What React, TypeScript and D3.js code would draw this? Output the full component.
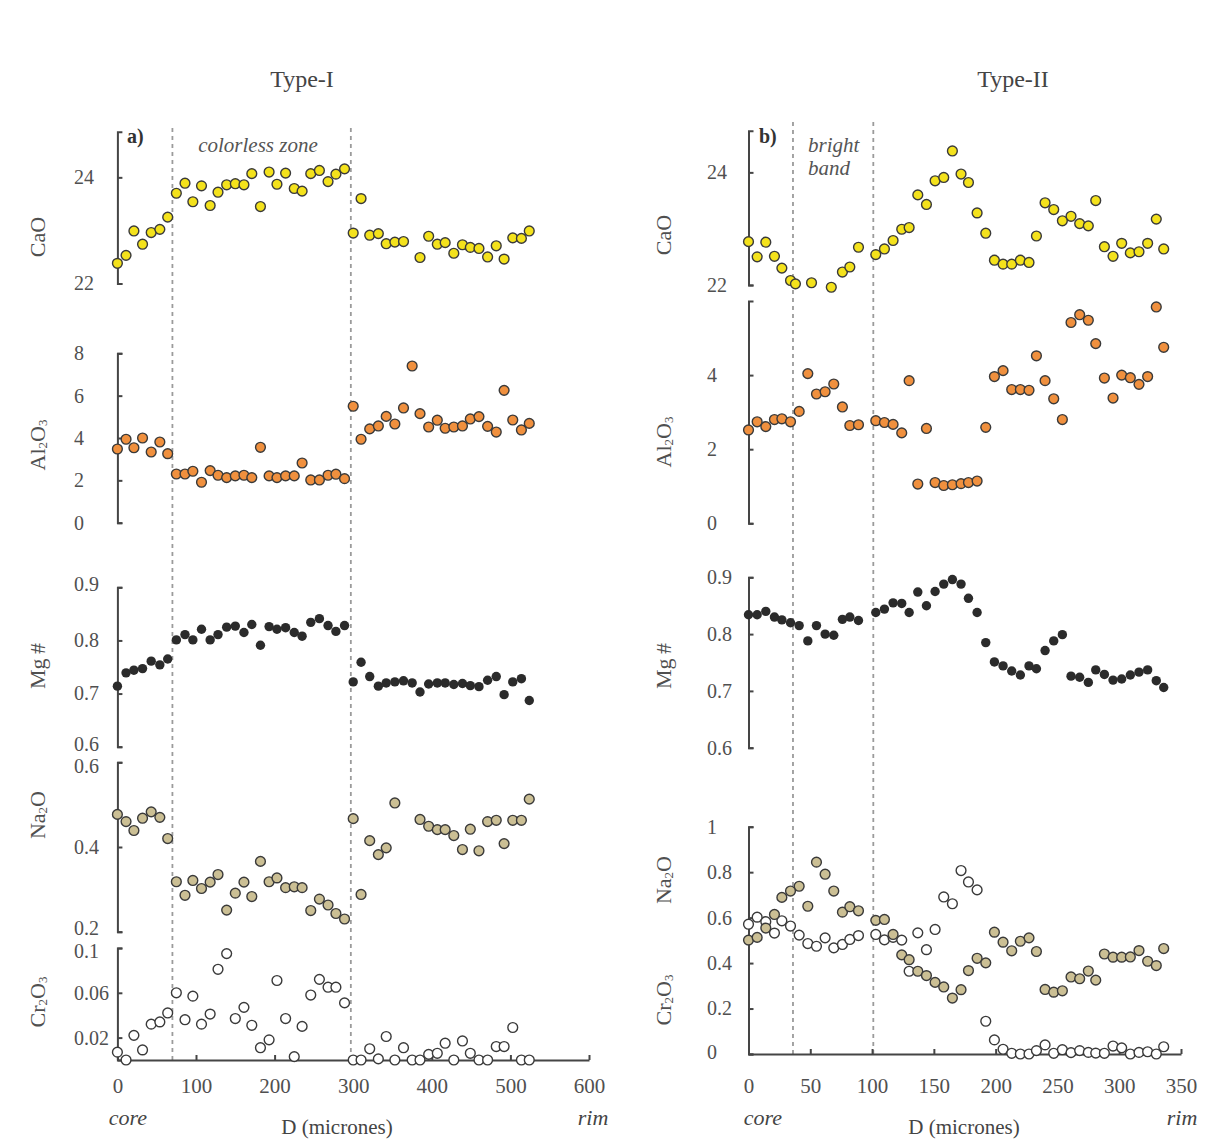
import React, { useRef, useEffect } from 'react';
import * as d3 from 'd3';

// Type-I crystal: distance from core (microns)
const distI = [0, 11, 21, 32, 43, 54, 64, 75, 86, 96, 107, 118, 128, 139, 150, 161, 171, 182, 193, 203,
  214, 225, 235, 246, 257, 268, 278, 289, 300, 310, 321, 332, 342, 353, 364, 375, 385, 396, 407, 417,
  428, 439, 449, 460, 471, 482, 492, 503, 514, 524];
const caoI = [22.38, 22.53, 22.99, 22.74, 22.96, 23.02, 23.25, 23.70, 23.89, 23.54, 23.84, 23.47, 23.72, 23.86, 23.88,
  23.86, 24.07, 23.45, 24.10, 23.87, 24.08, 23.79, 23.74, 24.07, 24.13, 23.92, 24.06, 24.16, 22.95, 23.60,
  22.91, 22.94, 22.75, 22.78, 22.79, null, 22.49, 22.89, 22.74, 22.77, 22.57, 22.73, 22.68, 22.66, 22.50,
  22.71, 22.46, 22.86, 22.85, 22.99];
const al2o3I = [3.48, 3.94, 3.54, 4.00, 3.34, 3.81, 3.26, 2.30, 2.30, 2.43, 1.91, 2.46, 2.24, 2.13, 2.21, 2.24,
  2.13, 3.56, 2.21, 2.13, 2.21, 2.21, 2.82, 2.02, 2.02, 2.24, 2.29, 2.08, 5.50, 3.94, 4.43, 4.57, 5.02, 4.66,
  5.42, 7.40, 5.15, 4.52, 4.84, 4.46, 4.52, 4.57, 4.90, 5.01, 4.55, 4.28, 6.25, 4.85, 4.38, 4.69];
const mgI = [0.714, 0.739, 0.744, 0.747, 0.761, 0.754, 0.765, 0.801, 0.811, 0.801, 0.821, 0.801, 0.811, 0.825,
  0.827, 0.815, 0.830, 0.791, 0.826, 0.821, 0.824, 0.815, 0.808, 0.834, 0.841, 0.828, 0.817, 0.828, 0.722,
  0.759, 0.732, 0.714, 0.720, 0.722, 0.724, 0.720, 0.703, 0.718, 0.720, 0.720, 0.717, 0.719, 0.715, 0.713,
  0.725, 0.732, 0.698, 0.722, 0.728, 0.687];
const na2oI = [0.477, 0.460, 0.439, 0.468, 0.483, 0.470, 0.420, 0.318, 0.286, 0.321, 0.302, 0.317, 0.335, 0.251,
  0.291, 0.317, 0.283, 0.366, 0.318, 0.327, 0.304, 0.306, 0.304, 0.250, 0.277, 0.263, 0.243, 0.230, 0.467,
  0.288, 0.415, 0.382, 0.398, 0.504, null, null, 0.465, 0.449, 0.441, 0.441, 0.427, 0.394, 0.442, 0.391,
  0.460, 0.463, 0.408, 0.463, 0.463, 0.513];
const cr2o3I = [0.007, 0, 0.022, 0.009, 0.032, 0.034, 0.042, 0.060, 0.036, 0.057, 0.032, 0.041, 0.081, 0.095,
  0.037, 0.047, 0.031, 0.011, 0.018, 0.071, 0.037, 0.003, 0.030, 0.058, 0.072, 0.065, 0.065, 0.051, 0, 0,
  0.010, 0.001, 0.021, 0, 0.011, 0, 0, 0.005, 0.006, 0.015, 0, 0.017, 0.006, 0, 0, 0.012, 0.012, 0.029, 0, 0];
const zonesI = [70, 297];

// Type-II crystal
const distII = [0, 7, 14, 21, 27, 34, 41, 48, 55, 62, 69, 76, 82, 89, 96, 103, 110, 117, 124, 130, 137, 144,
  151, 158, 165, 172, 178, 185, 192, 199, 206, 213, 220, 227, 233, 240, 247, 254, 261, 268, 275, 281, 288,
  295, 302, 309, 316, 323, 330, 336];
const caoDistII = [0, 7, 14, 21, 27, 34, 38, 51, 67, 76, 82, 89, 103, 110, 117, 124, 130, 137, 144, 151, 158,
  165, 172, 178, 185, 192, 199, 206, 213, 220, 227, 233, 240, 247, 254, 261, 268, 275, 281, 288, 295, 302,
  309, 316, 323, 330, 336];
const caoII = [22.77, 22.50, 22.76, 22.51, 22.30, 22.08, 22.02, 22.04, 21.96, 22.23, 22.32, 22.67, 22.54, 22.64,
  22.79, 22.99, 23.02, 23.60, 23.43, 23.85, 23.91, 24.38, 23.97, 23.82, 23.28, 22.92, 22.44, 22.37, 22.37,
  22.44, 22.40, 22.87, 23.46, 23.34, 23.14, 23.22, 23.09, 23.05, 23.50, 22.68, 22.51, 22.74, 22.57, 22.59,
  22.74, 23.17, 22.64];
const al2o3II = [2.52, 2.74, 2.61, 2.80, 2.82, 2.74, 3.02, 4.04, 3.49, 3.55, 3.76, 3.14, 2.64, 2.66, null, 2.77,
  2.72, 2.67, 2.44, 3.85, 1.06, 2.56, 1.10, 1.02, 1.04, 1.07, 1.10, 1.14, 2.59, 3.96, 4.12, 3.61, 3.61, 3.59,
  4.52, 3.85, 3.36, 2.80, 5.42, 5.63, 5.48, 4.85, 3.92, 3.38, 4.00, 3.93, 3.75, 3.96, 5.84, 4.75];
const mgII = [0.834, 0.834, 0.840, 0.830, 0.825, 0.820, 0.815, 0.788, 0.815, 0.800, 0.798, 0.826, 0.830, 0.824,
  null, 0.838, 0.844, 0.855, 0.854, 0.838, 0.874, 0.850, 0.875, 0.888, 0.896, 0.888, 0.863, 0.838, 0.785,
  0.751, 0.744, 0.735, 0.728, 0.744, 0.739, 0.771, 0.788, 0.799, 0.726, 0.724, 0.715, 0.737, 0.729, 0.719,
  0.721, 0.728, 0.733, 0.737, 0.718, 0.706];
const na2oII = [0.501, 0.513, 0.554, 0.614, 0.689, 0.717, 0.738, 0.650, 0.844, 0.791, 0.717, 0.624, 0.648, 0.630,
  null, 0.588, 0.592, 0.526, 0.436, 0.415, 0.364, 0.345, 0.315, 0.295, 0.246, 0.283, 0.367, 0.421, 0.401,
  0.536, 0.492, 0.454, 0.496, 0.511, 0.451, 0.284, 0.272, 0.278, 0.339, 0.331, 0.365, 0.325, 0.440, 0.426,
  0.426, 0.427, 0.455, 0.408, 0.389, 0.464];
const cr2o3II = [0.571, 0.602, 0.582, 0.532, 0.586, 0.563, 0.523, 0.486, 0.474, 0.511, 0.467, 0.482, 0.504, 0.521,
  null, 0.526, 0.502, 0.513, 0.501, 0.364, 0.533, 0.459, 0.548, 0.691, 0.661, 0.807, 0.757, 0.722, 0.144,
  0.062, 0.021, 0.003, 0, 0, 0.015, 0.040, 0.003, 0.019, 0.006, 0.015, 0.007, 0.004, 0.003, 0.035, 0.027, 0,
  0.007, 0.010, 0, 0.032];
const zonesII = [36, 101];

const serif = '"Liberation Serif", "DejaVu Serif", serif';

const markers: any = {
  cao: { fill: '#f4e21c', stroke: '#3a3a3a', r: 4.9 },
  al: { fill: '#f0903e', stroke: '#3a3a3a', r: 4.9 },
  mg: { fill: '#2b2b2b', stroke: 'none', r: 4.7 },
  na: { fill: '#cbbf94', stroke: '#3a3a3a', r: 4.9 },
  cr: { fill: '#ffffff', stroke: '#3a3a3a', r: 4.9 },
};

const panels = [
  {
    title: 'Type-I', titleX: 302, tag: 'a)', tagX: 127,
    xRange: [117.4, 589], xDomain: [0, 600], xTicks: [0, 100, 200, 300, 400, 500, 600],
    baseY: 1060, xPad: 18, tickLabelX: 74, nameX: 37, dashTop: 128, zones: zonesI,
    coreX: 128, rimX: 593, dX: 337,
    rows: [
      { domain: [22, 24.86], range: [283.5, 131.7], ticks: [22, 24], shift: {} },
      { domain: [0, 8], range: [522.7, 353.3], ticks: [0, 2, 4, 6, 8], shift: {} },
      { domain: [0.6, 0.9], range: [746.7, 587.3], ticks: [0.6, 0.7, 0.8, 0.9], shift: { 0.6: -3, 0.9: -3 } },
      { domain: [0.2, 0.6], range: [931.7, 762.3], ticks: [0.2, 0.4, 0.6], shift: { 0.6: 4, 0.2: -4 } },
      { domain: [0, 0.1], range: [1060, 948], ticks: [0.02, 0.06, 0.1], shift: { 0.1: 3 } },
    ],
    names: [
      { parts: [['CaO', 0]], y: 237 },
      { parts: [['Al', 0], ['2', 1], ['O', 0], ['3', 1]], y: 445 },
      { parts: [['Mg\u2009#', 0]], y: 666 },
      { parts: [['Na', 0], ['2', 1], ['O', 0]], y: 815 },
      { parts: [['Cr', 0], ['2', 1], ['O', 0], ['3', 1]], y: 1002 },
    ],
    series: [
      { dist: distI, values: caoI, row: 0, m: 'cao' },
      { dist: distI, values: al2o3I, row: 1, m: 'al' },
      { dist: distI, values: mgI, row: 2, m: 'mg' },
      { dist: distI, values: na2oI, row: 3, m: 'na' },
      { dist: distI, values: cr2o3I, row: 4, m: 'cr' },
    ],
  },
  {
    title: 'Type-II', titleX: 1013, tag: 'b)', tagX: 759,
    xRange: [748.5, 1181], xDomain: [0, 350], xTicks: [0, 50, 100, 150, 200, 250, 300, 350],
    baseY: 1054, xPad: 24, tickLabelX: 707, nameX: 663, dashTop: 122, zones: zonesII,
    coreX: 763, rimX: 1182, dX: 964,
    rows: [
      { domain: [22, 24.74], range: [285, 130.7], ticks: [22, 24], shift: {} },
      { domain: [0, 6], range: [523.3, 301], ticks: [0, 2, 4], shift: {} },
      { domain: [0.6, 0.9], range: [747.7, 577.3], ticks: [0.6, 0.7, 0.8, 0.9], shift: {} },
      { domain: [0, 1], range: [1054, 826.7], ticks: [0, 0.2, 0.4, 0.6, 0.8, 1], shift: { 0: -2 } },
    ],
    names: [
      { parts: [['CaO', 0]], y: 235 },
      { parts: [['Al', 0], ['2', 1], ['O', 0], ['3', 1]], y: 442 },
      { parts: [['Mg\u2009#', 0]], y: 666 },
      { parts: [['Na', 0], ['2', 1], ['O', 0]], y: 880 },
      { parts: [['Cr', 0], ['2', 1], ['O', 0], ['3', 1]], y: 1000 },
    ],
    series: [
      { dist: caoDistII, values: caoII, row: 0, m: 'cao' },
      { dist: distII, values: al2o3II, row: 1, m: 'al' },
      { dist: distII, values: mgII, row: 2, m: 'mg' },
      { dist: distII, values: cr2o3II, row: 3, m: 'cr' },
      { dist: distII, values: na2oII, row: 3, m: 'na' },
    ],
  },
];

function styleAxis(ax: any) {
  ax.attr('color', '#454545').attr('font-family', serif).attr('font-size', 20);
  ax.selectAll('path, line').attr('stroke-width', 2);
  ax.selectAll('text').attr('fill', '#505050');
}

function drawPanel(svg: any, p: any) {
  const g = svg.append('g').attr('font-family', serif);
  const x = d3.scaleLinear().domain(p.xDomain).range(p.xRange);
  const ys = p.rows.map((r: any) => d3.scaleLinear().domain(r.domain).range(r.range));

  g.selectAll('.zone')
    .data(p.zones)
    .join('line')
    .attr('class', 'zone')
    .attr('x1', (d: number) => x(d))
    .attr('x2', (d: number) => x(d))
    .attr('y1', p.dashTop)
    .attr('y2', p.baseY)
    .attr('stroke', '#9b9b9b')
    .attr('stroke-width', 1.8)
    .attr('stroke-dasharray', '4 4');

  p.rows.forEach((r: any, i: number) => {
    const ax = g.append('g')
      .attr('transform', `translate(${p.xRange[0]},0)`)
      .call(d3.axisLeft(ys[i]).tickValues(r.ticks).tickFormat((d: any) => String(d))
        .tickSizeInner(-5).tickSizeOuter(-5));
    styleAxis(ax);
    ax.selectAll('text')
      .attr('x', p.tickLabelX - p.xRange[0])
      .attr('y', (d: any) => r.shift[d] || 0)
      .attr('text-anchor', 'start');
  });

  const xa = g.append('g')
    .attr('transform', `translate(0,${p.baseY})`)
    .call(d3.axisBottom(x).tickValues(p.xTicks).tickFormat((d: any) => String(d))
      .tickSizeInner(-5).tickSizeOuter(0).tickPadding(p.xPad));
  styleAxis(xa);
  xa.attr('font-size', 21);

  p.names.forEach((n: any) => {
    const t = g.append('text')
      .attr('transform', `translate(${p.nameX},${n.y}) rotate(-90)`)
      .attr('text-anchor', 'middle')
      .attr('dominant-baseline', 'central')
      .attr('fill', '#505050')
      .attr('font-size', 22);
    let sub = false;
    n.parts.forEach(([s, isSub]: any) => {
      t.append('tspan')
        .text(s)
        .attr('font-size', isSub ? 13 : 22)
        .attr('dy', isSub && !sub ? 5 : !isSub && sub ? -5 : 0);
      sub = !!isSub;
    });
  });

  p.series.forEach((s: any) => {
    const m = markers[s.m];
    const pts = s.values
      .map((v: number | null, i: number) => ({ d: s.dist[i], v }))
      .filter((o: any) => o.v !== null);
    g.append('g')
      .selectAll('circle')
      .data(pts)
      .join('circle')
      .attr('cx', (o: any) => x(o.d))
      .attr('cy', (o: any) => ys[s.row](o.v))
      .attr('r', m.r)
      .attr('fill', m.fill)
      .attr('stroke', m.stroke)
      .attr('stroke-width', 1.4);
  });

  g.append('text').attr('x', p.titleX).attr('y', 87).attr('text-anchor', 'middle')
    .attr('font-size', 24).attr('fill', '#444').text(p.title);
  g.append('text').attr('x', p.tagX).attr('y', 143).attr('font-size', 20)
    .attr('font-weight', 'bold').attr('fill', '#333').text(p.tag);
  g.append('text').attr('x', p.coreX).attr('y', 1125).attr('text-anchor', 'middle')
    .attr('font-size', 22).attr('font-style', 'italic').attr('fill', '#444').text('core');
  g.append('text').attr('x', p.rimX).attr('y', 1125).attr('text-anchor', 'middle')
    .attr('font-size', 22).attr('font-style', 'italic').attr('fill', '#444').text('rim');
  g.append('text').attr('x', p.dX).attr('y', 1134).attr('text-anchor', 'middle')
    .attr('font-size', 21).attr('fill', '#444').text('D (micrones)');
}

function App() {
  const svgRef = useRef<SVGSVGElement>(null);

  useEffect(() => {
    const svg = d3.select(svgRef.current);
    svg.selectAll('*').remove();
    panels.forEach((p) => drawPanel(svg, p));

    const note = svg.append('g').attr('font-family', serif).attr('font-style', 'italic')
      .attr('font-size', 21).attr('fill', '#555');
    note.append('text').attr('x', 258).attr('y', 152).attr('text-anchor', 'middle').text('colorless zone');
    note.append('text').attr('x', 808).attr('y', 152).text('bright');
    note.append('text').attr('x', 808).attr('y', 175).text('band');
  }, []);

  return (
    <svg
      ref={svgRef}
      width={1211}
      height={1140}
      style={{ position: 'absolute', left: 0, top: 0, background: '#fff' }}
    />
  );
}

export default App;
